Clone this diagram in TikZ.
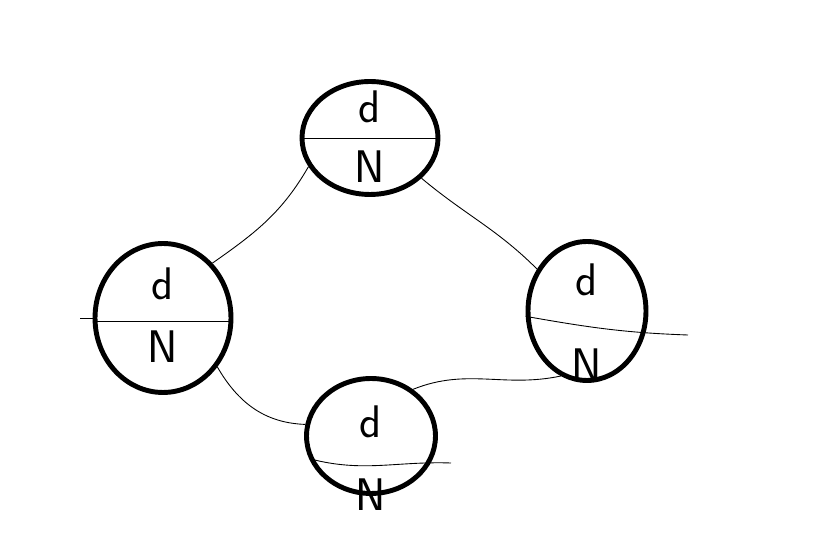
\documentclass[tikz,border=0pt]{standalone}
\usepackage{tikz}
\usetikzlibrary{positioning,shapes.geometric}

\begin{document}
\begin{tikzpicture}[x=0.02cm,y=-0.02cm,node distance=0.2cm,
		oval/.style={draw,ellipse,line width=2.8pt,inner sep=0pt},
		lbl/.style={font=\sffamily\fontsize{26}{26}\selectfont,inner sep=0pt},
		wire/.style={line width=0.5pt}]
			\useasboundingbox (0,0) rectangle (832,546);
			\node (top)   [oval,minimum width=2.72cm,minimum height=2.26cm] at (370,138) {};
			\node (left)  [oval,minimum width=2.72cm,minimum height=2.98cm] at (163,318) {};
			\node (right) [oval,minimum width=2.36cm,minimum height=2.78cm] at (587,311) {};
			\node (bot)   [oval,minimum width=2.58cm,minimum height=2.30cm] at (371,436) {};
			
			\node (topd)   [lbl,above=0.3cm of top.center]  {d};
			\node (topn)   [lbl,below=0.25cm of top.center]  {N};
			\node (leftd)  [lbl,above=0.35cm of left.center]  {d};
			\node (leftn)  [lbl,below=0.25cm of left.center] {N};
			\node (rightd) [lbl,above=0.3cm of right.center] {d};
			\node (rightn) [lbl,below=0.75cm of right.center] {N};
			\node (botd)   [lbl,above=-0.05cm of bot.center]  {d};
			\node (botn)   [lbl,below=0.85cm of bot.center]   {N};
			
			% fraction bars
			\coordinate (rightend) at (688,335);
			\coordinate (botend)   at (451,463);
			\coordinate (leftend)  at (80,318);
			\draw[wire] (top.west) -- (top.east);
			\draw[wire] (leftend) -- (left.west);
			\draw[wire] (left.183) -- (left.357);
			\draw[wire] (right.185) to[out=-10,in=178] (rightend);
			\draw[wire] (bot.200) to[out=-15,in=178] (botend);
			
			% connectors
			\draw[wire] (top.205) to[out=240,in=35] (left.48);
			\draw[wire] (top.322) to[out=-40,in=135] (right.140);
			\draw[wire] (right.248) to[out=192,in=22] (bot.48);
			\draw[wire] (bot.170) to[out=178,in=-60] (left.318);
		\end{tikzpicture}
\end{document}
